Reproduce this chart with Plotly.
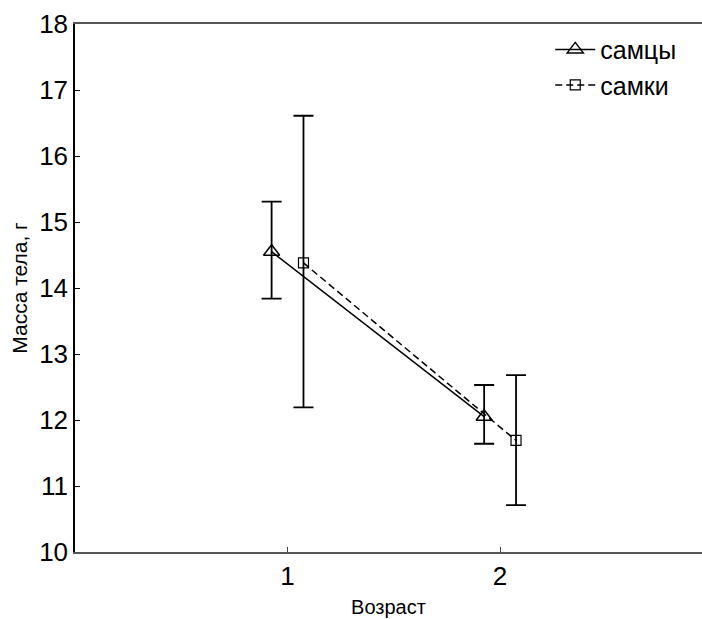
import plotly.graph_objects as go

ages = [1, 2]
offset = 0.075
male_mean = [14.55, 12.05]
male_upper = [15.31, 12.53]
male_lower = [13.84, 11.64]
female_mean = [14.38, 11.69]
female_upper = [16.61, 12.68]
female_lower = [12.19, 10.71]
x_ticks = [1, 2]
y_ticks = [10, 11, 12, 13, 14, 15, 16, 17, 18]

FONT = "Liberation Sans, Arial, sans-serif"

fig = go.Figure()
fig.add_trace(go.Scatter(
    x=[a - offset for a in ages], y=male_mean, name="самцы",
    mode="lines+markers",
    line=dict(color="black", width=1.5, dash="solid"),
    marker=dict(symbol="triangle-up-open", size=14, color="black", line=dict(width=1.5)),
    error_y=dict(type="data", symmetric=False,
                 array=[u - m for u, m in zip(male_upper, male_mean)],
                 arrayminus=[m - l for m, l in zip(male_mean, male_lower)],
                 color="black", thickness=1.8, width=10),
))
fig.add_trace(go.Scatter(
    x=[a + offset for a in ages], y=female_mean, name="самки",
    mode="lines+markers",
    line=dict(color="black", width=1.5, dash="7px,4px"),
    marker=dict(symbol="square-open", size=10, color="black", line=dict(width=1.2)),
    error_y=dict(type="data", symmetric=False,
                 array=[u - m for u, m in zip(female_upper, female_mean)],
                 arrayminus=[m - l for m, l in zip(female_mean, female_lower)],
                 color="black", thickness=1.8, width=10),
))

fig.update_layout(
    width=702, height=619,
    margin=dict(l=75, r=0, t=24, b=67),
    paper_bgcolor="white", plot_bgcolor="white",
    font=dict(family=FONT, color="black"),
    showlegend=True,
    legend=dict(x=0.758, y=0.995, xanchor="left", yanchor="top",
                font=dict(size=25, family=FONT), bgcolor="rgba(0,0,0,0)",
                itemwidth=40, tracegroupgap=4),
    xaxis=dict(range=[0, 2.95], tickvals=x_ticks, ticktext=[str(t) for t in x_ticks],
               ticks="inside", ticklen=5, tickcolor="#444",
               showline=True, linecolor="#555", linewidth=2, mirror=True,
               showgrid=False, zeroline=False,
               tickfont=dict(size=26, family=FONT),
               title=dict(text="Возраст", font=dict(size=20, family=FONT), standoff=10)),
    yaxis=dict(range=[10, 18], tickvals=y_ticks,
               ticks="inside", ticklen=5, tickcolor="black",
               showline=True, linecolor="black", linewidth=1.5,
               showgrid=False, zeroline=False,
               tickfont=dict(size=26, family=FONT),
               title=dict(text="Масса тела, г", font=dict(size=21, family=FONT), standoff=6)),
)

# remove the browser's default 8px body margin so the figure fills the window exactly
fig.write_html("out.html", config={"displayModeBar": False},
               post_script="document.body.style.margin='0';document.body.style.overflow='hidden';")
